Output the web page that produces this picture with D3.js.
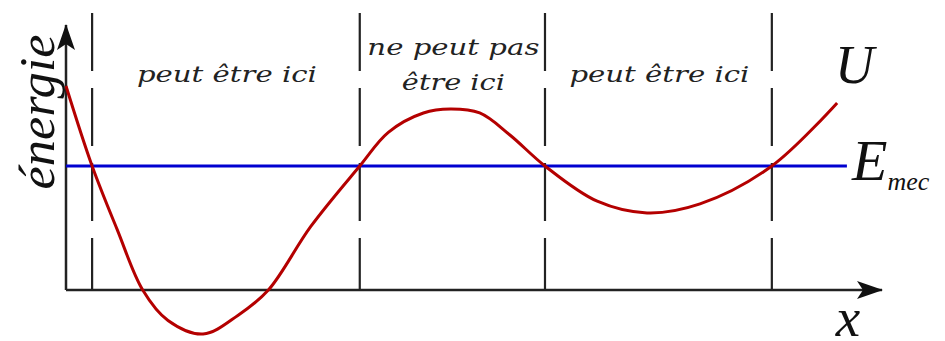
<!DOCTYPE html>
<html>
<head>
<meta charset="utf-8">
<script src="https://cdn.jsdelivr.net/npm/d3@7"></script>
<style>
  body { margin: 0; background: #fff; }
</style>
</head>
<body>
<div id="energyPlot"></div>
<script>
// potential energy curve U(x) (x and energy on 0..100 axes)
const curveX = [0, 3.2, 6.3, 9.4, 12.5, 16.8, 21.1, 24.8, 30.0, 36.0,
  39.5, 43.8, 47.1, 50.7, 54.4, 58.7, 65.1, 71.2, 77.7, 86.5, 94.5];
const curveU = [77, 46.8, 22.6, 0, -11.5, -16.6, -9.5, 0, 24, 46.8,
  59.5, 66.8, 68.3, 66.8, 58.5, 46.8, 33.5, 29.1, 32.5, 46.8, 70.6];

// mechanical energy level and where it ends
const eMec = 46.8;
const eMecEnd = 95.7;

// turning points (dashed lines)
const turningPoints = [3.2, 36.0, 58.7, 86.5];

// region labels
const regionLabels = [
  { from: 3.2, to: 36.0, lines: ["peut être ici"] },
  { from: 36.0, to: 58.7, lines: ["ne peut pas", "être ici"] },
  { from: 58.7, to: 86.5, lines: ["peut être ici"] },
];

const width = 945;
const height = 341;

const svg = d3
  .select("div#energyPlot")
  .append("svg")
  .attr("width", width)
  .attr("height", height);

const x = d3.scaleLinear().domain([0, 100]).range([66, 882]);
const y = d3.scaleLinear().domain([0, 100]).range([290, 25]);

// arrow heads for the axes
const defs = svg.append("defs");
defs
  .append("marker")
  .attr("id", "arrow")
  .attr("viewBox", "0 0 26 20")
  .attr("refX", 25)
  .attr("refY", 10)
  .attr("markerWidth", 26)
  .attr("markerHeight", 20)
  .attr("markerUnits", "userSpaceOnUse")
  .attr("orient", "auto")
  .append("path")
  .attr("d", "M0,1 L26,10 L0,19 L6,10 Z")
  .style("fill", "#111");

// dashed turning point lines
svg
  .selectAll("turnline")
  .data(turningPoints)
  .join("line")
  .attr("x1", function (d) {
    return x(d);
  })
  .attr("x2", function (d) {
    return x(d);
  })
  .attr("y1", 13)
  .attr("y2", y(0))
  .attr("stroke", "#222")
  .attr("stroke-width", 2.2)
  .attr("stroke-dasharray", "58,17");

// axes
svg
  .append("line")
  .attr("x1", x(0))
  .attr("x2", x(100))
  .attr("y1", y(0))
  .attr("y2", y(0))
  .attr("stroke", "#222")
  .attr("stroke-width", 2.5)
  .attr("marker-end", "url(#arrow)");

svg
  .append("line")
  .attr("x1", x(0))
  .attr("x2", x(0))
  .attr("y1", y(0))
  .attr("y2", y(100))
  .attr("stroke", "#222")
  .attr("stroke-width", 2.5)
  .attr("marker-end", "url(#arrow)");

// mechanical energy
svg
  .append("line")
  .attr("x1", x(0))
  .attr("x2", x(eMecEnd))
  .attr("y1", y(eMec))
  .attr("y2", y(eMec))
  .attr("stroke", "#0000d0")
  .attr("stroke-width", 3.2);

// U(x)
const line = d3
  .line()
  .x(function (d, i) {
    return x(curveX[i]);
  })
  .y(function (d) {
    return y(d);
  })
  .curve(d3.curveCatmullRom.alpha(0.5));

svg
  .append("path")
  .datum(curveU)
  .attr("d", line)
  .attr("fill", "none")
  .attr("stroke", "#b40000")
  .attr("stroke-width", 3)
  .attr("stroke-linejoin", "round");

// region labels
regionLabels.forEach(function (r) {
  const cx = (x(r.from) + x(r.to)) / 2;
  r.lines.forEach(function (t, j) {
    const twoLines = r.lines.length > 1;
    svg
      .append("text")
      .attr("x", cx + 1)
      .attr("y", twoLines ? 55 + j * 35 : 82)
      .attr("text-anchor", "middle")
      .attr("textLength", twoLines ? (j == 0 ? 172 : 103) : 180)
      .attr("lengthAdjust", "spacingAndGlyphs")
      .style("font-family", "'DejaVu Serif', serif")
      .style("font-style", "italic")
      .style("font-size", "23px")
      .style("fill", "#222")
      .text(t);
  });
});

// y axis label
svg
  .append("text")
  .attr("transform", "translate(54, 112) rotate(-90)")
  .attr("text-anchor", "middle")
  .attr("textLength", 155)
  .attr("lengthAdjust", "spacingAndGlyphs")
  .style("font-family", "'Liberation Serif', serif")
  .style("font-style", "italic")
  .style("font-size", "50px")
  .style("fill", "#111")
  .text("énergie");

// curve names
svg
  .append("text")
  .attr("x", 835)
  .attr("y", 83)
  .style("font-family", "'Liberation Serif', serif")
  .style("font-style", "italic")
  .style("font-size", "54px")
  .style("fill", "#111")
  .text("U");

const emec = svg
  .append("text")
  .attr("x", 852)
  .attr("y", 180)
  .style("font-family", "'Liberation Serif', serif")
  .style("font-style", "italic")
  .style("fill", "#111");
emec.append("tspan").style("font-size", "58px").text("E");
emec
  .append("tspan")
  .attr("dy", 10)
  .style("font-size", "26px")
  .text("mec");

// x axis label
svg
  .append("text")
  .attr("x", 848)
  .attr("y", 336)
  .attr("text-anchor", "middle")
  .style("font-family", "'Liberation Serif', serif")
  .style("font-style", "italic")
  .style("font-size", "55px")
  .style("fill", "#111")
  .text("x");
</script>
</body>
</html>
